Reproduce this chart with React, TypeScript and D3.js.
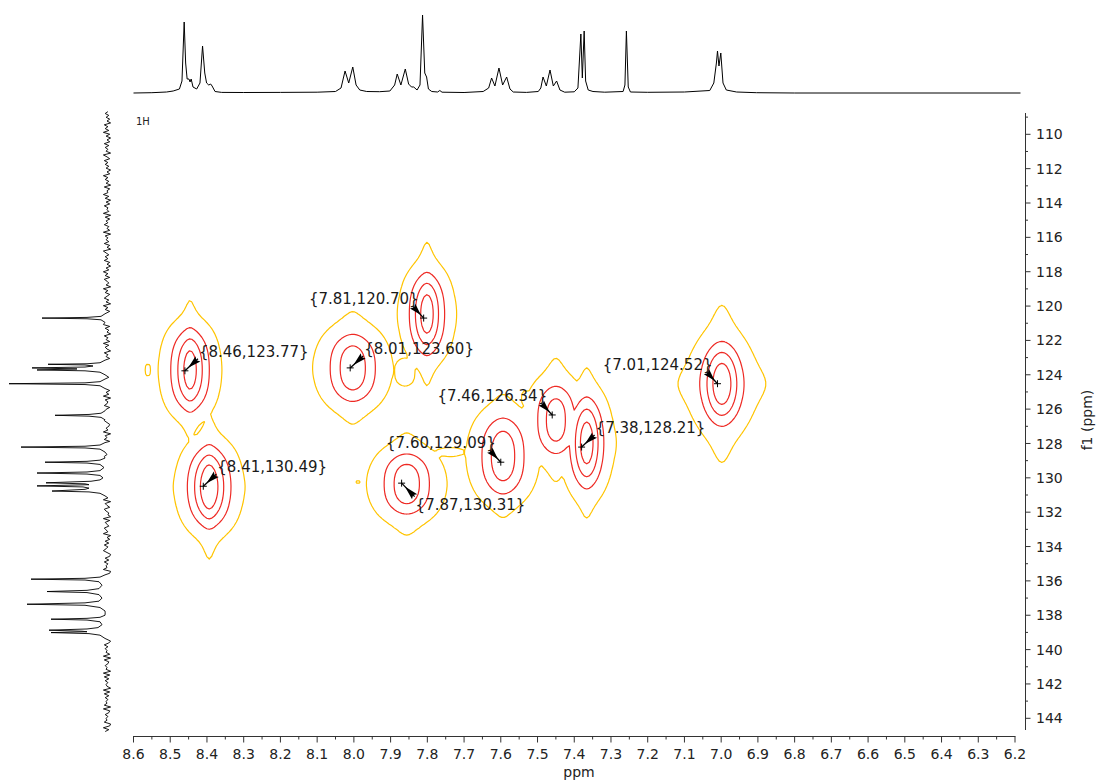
import React from "react";
import * as d3 from "d3";

// ---------- axis ticks ----------
const X_TICKS = [8.6, 8.5, 8.4, 8.3, 8.2, 8.1, 8.0, 7.9, 7.8, 7.7, 7.6, 7.5, 7.4, 7.3, 7.2, 7.1, 7.0, 6.9, 6.8, 6.7, 6.6, 6.5, 6.4, 6.3, 6.2];
const Y_TICKS = [110, 112, 114, 116, 118, 120, 122, 124, 126, 128, 130, 132, 134, 136, 138, 140, 142, 144];

// ---------- picked peaks (labels) ----------
const PEAK_H = [8.46, 8.01, 7.81, 8.41, 7.87, 7.60, 7.46, 7.38, 7.01];
const PEAK_C = [123.77, 123.60, 120.70, 130.49, 130.31, 129.09, 126.34, 128.21, 124.52];
const LABEL_DIR = ["ur", "ur", "ul", "ur", "dr", "ul", "ul", "ur", "ul"];

// ---------- 2D cross-peak components (ppm) ----------
const XP_H = [8.446, 8.394, 8.003, 7.801, 7.856, 7.594, 7.450, 7.366, 6.998, 8.561, 7.861, 7.534, 7.989, 7.738];
const XP_C = [123.72, 130.53, 123.60, 120.46, 130.36, 128.73, 126.63, 127.97, 124.53, 123.72, 123.84, 125.36, 130.24, 128.50];
const XP_AMP = [1.0, 1.15, 0.72, 1.0, 0.72, 0.72, 0.68, 1.0, 1.05, 0.07, 0.08, 0.07, 0.07, 0.065];
const XP_GX = [0.0408, 0.0435, 0.0490, 0.0354, 0.0490, 0.0463, 0.0408, 0.0327, 0.0381, 0.0109, 0.0327, 0.0136, 0.0068, 0.060];
const XP_GY = [1.921, 1.863, 1.630, 1.863, 1.455, 1.863, 1.630, 2.095, 1.863, 0.466, 0.931, 0.582, 0.175, 0.407];
const XP_LX = [0.0218, 0.0245, 0.0471, 0.0245, 0.0479, 0.0419, 0.0381, 0.0272, 0.0408, 0.01, 0.01, 0.01, 0.01, 0.01];
const XP_LY = [1.513, 1.368, 1.746, 1.572, 1.601, 1.863, 2.037, 1.630, 1.572, 0.1, 0.1, 0.1, 0.1, 0.1];
const XP_LOR = [0.4, 0.45, 0.3, 0.4, 0.3, 0.3, 0.3, 0.4, 0.45, 0, 0, 0, 0, 0];
const LEVELS = [0.05, 0.25, 0.5, 0.78];

// ---------- 1H projection (top) : [ppm, intensity] ----------
const TOP_TRACE: [number, number][] = [
  [8.60, 0], [8.55, 0.3], [8.51, 1], [8.492, 2], [8.475, 4], [8.468, 12], [8.462, 71], [8.458, 30], [8.454, 14],
  [8.449, 14], [8.446, 11], [8.443, 14], [8.438, 6], [8.428, 4], [8.419, 10], [8.412, 47], [8.406, 20], [8.401, 10],
  [8.395, 8], [8.390, 9], [8.386, 7], [8.378, 1.5], [8.36, 0.6], [8.30, 0.5], [8.20, 0.6], [8.10, 0.8], [8.05, 1.5],
  [8.035, 5], [8.024, 22], [8.014, 10], [8.003, 26], [7.994, 8], [7.984, 3], [7.965, 1.5], [7.93, 1.3], [7.902, 2],
  [7.889, 8], [7.882, 19], [7.872, 8], [7.860, 24], [7.851, 9], [7.843, 6], [7.837, 6], [7.828, 3], [7.820, 8],
  [7.813, 78], [7.807, 20], [7.802, 16], [7.797, 4], [7.788, 1.5], [7.772, 1], [7.766, 2.5], [7.760, 0.8], [7.70, 0.5],
  [7.648, 1.5], [7.633, 5], [7.625, 15], [7.616, 7], [7.605, 25], [7.595, 8], [7.584, 16], [7.575, 4], [7.566, 1],
  [7.53, 0.6], [7.498, 1.5], [7.491, 5], [7.485, 16], [7.476, 7], [7.466, 23], [7.457, 7], [7.448, 12], [7.439, 3],
  [7.426, 0.8], [7.40, 1.2], [7.390, 5], [7.382, 59], [7.378, 15], [7.373, 62], [7.369, 12], [7.362, 3], [7.349, 1.5],
  [7.317, 0.8], [7.267, 1.5], [7.262, 8], [7.258, 62], [7.253, 6], [7.247, 1], [7.20, 0.7], [7.10, 1], [7.031, 2.5],
  [7.020, 10], [7.013, 30], [7.010, 42], [7.006, 27], [7.001, 40], [6.998, 25], [6.995, 10], [6.986, 3], [6.958, 1],
  [6.904, 0.3], [6.80, 0], [6.185, 0],
];

// ---------- 13C projection (left) : clusters of [ppm, intensity] ----------
const LEFT_PEAKS: [number, number][][] = [
  [[120.45, 2], [120.60, 6], [120.66, 20], [120.70, 65], [120.74, 20], [120.80, 6], [120.95, 2]],
  [[123.15, 2], [123.30, 7], [123.36, 20], [123.39, 59], [123.43, 22], [123.49, 14], [123.55, 22], [123.60, 75],
   [123.66, 30], [123.72, 70], [123.77, 22], [123.85, 7], [124.0, 2]],
  [[124.25, 2], [124.40, 7], [124.47, 22], [124.52, 98], [124.57, 22], [124.64, 7], [124.8, 2]],
  [[126.1, 2], [126.24, 6], [126.31, 18], [126.36, 52], [126.41, 18], [126.48, 6], [126.62, 2]],
  [[127.95, 2], [128.09, 7], [128.16, 22], [128.21, 86], [128.26, 22], [128.33, 7], [128.5, 2]],
  [[128.85, 2], [128.97, 7], [129.04, 20], [129.09, 62], [129.14, 20], [129.22, 7], [129.4, 3], [129.58, 7],
   [129.66, 20], [129.72, 70], [129.78, 20], [129.86, 7], [130.0, 4], [130.12, 7], [130.20, 16], [130.29, 61],
   [130.35, 22], [130.40, 18], [130.47, 70], [130.53, 24], [130.60, 18], [130.67, 22], [130.77, 55], [130.82, 18],
   [130.90, 7], [131.05, 2]],
  [[135.65, 2], [135.78, 7], [135.85, 22], [135.90, 76], [135.95, 22], [136.05, 8], [136.25, 5], [136.45, 8],
   [136.55, 20], [136.62, 60], [136.68, 20], [136.8, 8], [137.0, 5], [137.18, 8], [137.28, 22], [137.36, 80],
   [137.42, 22], [137.55, 7], [137.75, 2]],
  [[138.0, 2], [138.12, 7], [138.18, 20], [138.23, 56], [138.28, 20], [138.38, 7], [138.55, 5], [138.72, 9],
   [138.8, 20], [138.87, 58], [138.93, 25], [138.96, 20], [139.01, 56], [139.07, 18], [139.16, 7], [139.35, 2]],
];
const LEFT_RANGE = [108.68, 144.77];
const LEFT_NOISE =
  "473625184739261528374619528473" +
  "615294736182549371628453917264" +
  "835291746382519637482516394728" +
  "536194725836194725381649273518" +
  "462937518462937158462391748526" +
  "391745826394178523649175826394" +
  "715826394715283649715283649175" +
  "286341927538649152738469512738" +
  "465912837465921837465921387456" +
  "921387456291384756291834756192" +
  "837465192837465819237465812937";

const FONT = "'DejaVu Sans', Verdana, sans-serif";
const YELLOW = "#FFC400";
const RED = "#EE2A24";

export default function App() {
  const x = d3.scaleLinear().domain([8.6, 6.2]).range([133.5, 1015]);
  const y = d3.scaleLinear().domain([110, 144]).range([134.3, 718.3]);
  const yTop = d3.scaleLinear().domain([0, 78]).range([93, 15]);
  const xLeft = d3.scaleLinear().domain([0, 100]).range([107, 7]);

  const contourPaths = React.useMemo(() => {
    const X0 = 133, X1 = 1022, Y0 = 112, Y1 = 731, SX = 2.5, SY = 4;
    const nx = Math.ceil((X1 - X0) / SX), ny = Math.ceil((Y1 - Y0) / SY);
    const vals = new Array(nx * ny);
    const P = 10;
    for (let j = 0; j < ny; j++) {
      const c = y.invert(Y0 + (j + 0.5) * SY);
      for (let i = 0; i < nx; i++) {
        const h = x.invert(X0 + (i + 0.5) * SX);
        let s = 0;
        for (let k = 0; k < XP_H.length; k++) {
          const dh = h - XP_H[k], dc = c - XP_C[k];
          const ug = dh / XP_GX[k], vg = Math.abs(dc / XP_GY[k]);
          const ul = dh / XP_LX[k], vl = dc / XP_LY[k];
          const m = XP_LOR[k];
          const core = Math.exp(-Math.LN2 * (ug * ug + vg * vg * vg));
          const lor = 1 / ((1 + ul * ul) * (1 + vl * vl));
          const f = XP_AMP[k] * ((1 - m) * core + m * lor);
          s += Math.pow(f, P);
        }
        vals[j * nx + i] = Math.pow(s, 1 / P);
      }
    }
    const cs = d3.contours().size([nx, ny]).thresholds(LEVELS)(vals);
    return cs.map((g, idx) => {
      const d = g.coordinates
        .map((poly) =>
          poly
            .map((ring) => "M" + ring.map(([gx, gy]) => `${(X0 + gx * SX).toFixed(2)},${(Y0 + gy * SY).toFixed(2)}`).join("L") + "Z")
            .join("")
        )
        .join("");
      return { d, color: idx === 0 ? YELLOW : RED };
    });
  }, []);

  const topPath = d3.line<[number, number]>().x((p) => x(p[0])).y((p) => yTop(p[1]))(TOP_TRACE) || "";

  const leftPath = React.useMemo(() => {
    const n = LEFT_NOISE.length;
    const step = (LEFT_RANGE[1] - LEFT_RANGE[0]) / (n - 1);
    const extents = LEFT_PEAKS.map((cl) => [cl[0][0], cl[cl.length - 1][0]]);
    const pts: [number, number][] = [];
    for (let k = 0; k < n; k++) {
      const ppm = LEFT_RANGE[0] + k * step;
      if (extents.some(([a, b]) => ppm >= a - 0.05 && ppm <= b + 0.05)) continue;
      pts.push([ppm, (+LEFT_NOISE[k] - 5) * 0.9]);
    }
    LEFT_PEAKS.forEach((cl) => cl.forEach((p) => pts.push(p)));
    pts.sort((a, b) => a[0] - b[0]);
    return d3.line<[number, number]>().x((p) => xLeft(p[1])).y((p) => y(p[0]))(pts) || "";
  }, []);

  const xMinor = X_TICKS.slice(1).map((t) => t + 0.05);
  const yMinor = Y_TICKS.slice(1).map((t) => t - 1).concat([109, 145]).filter((t) => y(t) >= 113 && y(t) <= 730);

  const axisY = 736.5;
  const axisX = 1025.5;

  return (
    <svg width={1100} height={784} style={{ position: "absolute", left: 0, top: 0, background: "#fff" }} fontFamily={FONT}>
      {/* 1D projections */}
      <path d={topPath} fill="none" stroke="#000" strokeWidth={1} />
      <path d={leftPath} fill="none" stroke="#000" strokeWidth={0.9} />

      {/* contours */}
      {contourPaths.map((c, i) => (
        <path key={i} d={c.d} fill="none" stroke={c.color} strokeWidth={1.2} strokeLinejoin="round" />
      ))}

      {/* peak markers */}
      {PEAK_H.map((h, i) => {
        const cx = x(h), cy = y(PEAK_C[i]);
        const dir = LABEL_DIR[i];
        const ox = dir === "ul" ? -11 : 13;
        const oy = dir === "dr" ? 13.5 : -12;
        const ex = cx + ox, ey = cy + oy;
        const len = Math.hypot(ox, oy);
        const dx = ox / len, dy = oy / len;
        const px = -dy, py = dx;
        const tip = [cx + dx * len * 0.25, cy + dy * len * 0.25];
        const b1 = [ex + px * 3.6, ey + py * 3.6];
        const b2 = [ex - px * 3.6, ey - py * 3.6];
        const nt = [ex - dx * len * 0.12, ey - dy * len * 0.12];
        const label = `{${h.toFixed(2)},${PEAK_C[i].toFixed(2)}}`;
        let tx = ex + 1, ty = ey - 2, anchor = "start";
        if (dir === "ul") { tx = ex + 6; anchor = "end"; }
        if (dir === "dr") { ty = ey + 13; }
        return (
          <g key={i}>
            <line x1={cx - 3.5} x2={cx + 3.5} y1={cy} y2={cy} stroke="#000" strokeWidth={1} />
            <line x1={cx} x2={cx} y1={cy - 3.5} y2={cy + 3.5} stroke="#000" strokeWidth={1} />
            <line x1={cx} y1={cy} x2={ex} y2={ey} stroke="#000" strokeWidth={1.3} />
            <polygon points={[tip, b1, nt, b2].map((p) => p.join(",")).join(" ")} fill="#000" />
            <text x={tx} y={ty} textAnchor={anchor} fontSize={15} fill="#1a1a1a">{label}</text>
          </g>
        );
      })}

      {/* x axis */}
      <line x1={133} x2={1015.5} y1={axisY} y2={axisY} stroke="#333" strokeWidth={1} />
      {X_TICKS.map((t) => (
        <g key={t}>
          <line x1={x(t)} x2={x(t)} y1={axisY} y2={axisY + 6} stroke="#333" strokeWidth={1} />
          <text x={x(t)} y={759} textAnchor="middle" fontSize={14} fill="#222">{t.toFixed(1)}</text>
        </g>
      ))}
      {xMinor.map((t) => (
        <line key={t} x1={x(t)} x2={x(t)} y1={axisY} y2={axisY + 3} stroke="#333" strokeWidth={1} />
      ))}
      <text x={579} y={777} textAnchor="middle" fontSize={14} fill="#222">ppm</text>

      {/* y axis (right) */}
      <line x1={axisX} x2={axisX} y1={113} y2={730} stroke="#333" strokeWidth={1} />
      {Y_TICKS.map((t) => (
        <g key={t}>
          <line x1={axisX} x2={axisX + 5} y1={y(t)} y2={y(t)} stroke="#333" strokeWidth={1} />
          <text x={1036} y={y(t)} dy="0.36em" textAnchor="start" fontSize={14} fill="#222">{t}</text>
        </g>
      ))}
      {yMinor.map((t) => (
        <line key={t} x1={axisX} x2={axisX + 2.5} y1={y(t)} y2={y(t)} stroke="#333" strokeWidth={1} />
      ))}
      <text transform="translate(1092,420) rotate(-90)" textAnchor="middle" fontSize={14} fill="#222">f1 (ppm)</text>

      <text x={136} y={125} fontSize={10} fill="#222">1H</text>
    </svg>
  );
}
